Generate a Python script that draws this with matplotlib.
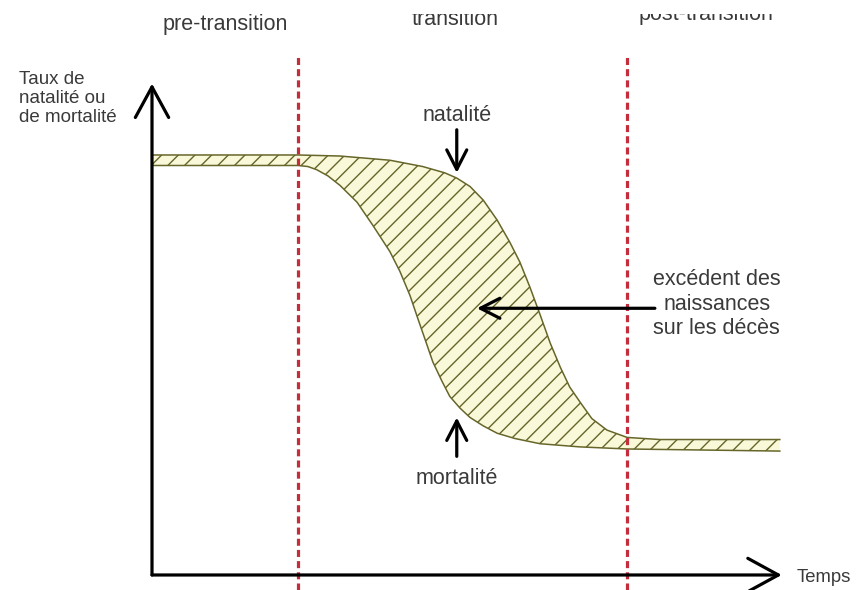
import matplotlib
matplotlib.use("Agg")
import matplotlib.pyplot as plt
from matplotlib.transforms import Bbox, TransformedBbox

# time (arbitrary units) and rates (per mille)
nat_time = [0, 23.1, 29.8, 37.7, 42.9, 46.4, 48.3, 50.4, 52.5, 54.7, 56.7,
            58.3, 59.9, 61.5, 63.1, 64.7, 66.2, 67.8, 69.7, 72.1, 75.3, 80.5, 99.5]
nat_rate = [40.0, 40.0, 39.9, 39.5, 38.9, 38.3, 37.8, 37.0, 35.7, 33.8, 31.7,
            29.8, 27.4, 24.8, 22.1, 19.8, 17.9, 16.5, 14.9, 13.8, 13.1, 12.9, 12.9]
mort_time = [0, 23.1, 24.7, 26.1, 27.9, 29.8, 32.5, 35.0, 37.7, 39.3, 40.9,
             42.2, 43.3, 44.5, 46.0, 47.2, 48.8, 50.4, 52.5, 54.7, 57.5, 61.5,
             67.8, 75.3, 99.5]
mort_rate = [39.0, 39.0, 38.9, 38.6, 38.0, 37.1, 35.5, 33.3, 30.8, 28.9, 26.6,
             24.3, 22.4, 20.3, 18.4, 17.0, 15.9, 15.0, 14.2, 13.5, 13.0, 12.5,
             12.2, 12.0, 11.8]
phase_bounds = [23.1, 75.3]
phase_labels = ["pre-transition", "transition", "post-transition"]

plt.rcParams["font.family"] = ["Liberation Sans", "DejaVu Sans"]
plt.rcParams["hatch.linewidth"] = 1.0

TXT = "#3a3a3a"
OLIVE = "#66662a"
RED = "#c42d3c"

fig = plt.figure(figsize=(8.65, 5.9), dpi=100)
ax = fig.add_axes([0, 0, 1, 1])
ax.set_xlim(-24.09, 113.0)
ax.set_ylim(-1.43, 54.76)
ax.axis("off")

# hatched band between the two curves
ax.fill(nat_time + mort_time[::-1], nat_rate + mort_rate[::-1],
        facecolor="#f9f9da", edgecolor=OLIVE, hatch="//", linewidth=0, zorder=2)
ax.plot(nat_time, nat_rate, color=OLIVE, lw=1.1, zorder=3)
ax.plot(mort_time, mort_rate, color=OLIVE, lw=1.1, zorder=3)

# phase boundaries
for b in phase_bounds:
    ax.plot([b, b], [-1.43, 49.5], color=RED, lw=2.3, dashes=(2.2, 1.3), zorder=4)

# axes with open arrowheads
big = dict(arrowstyle="->,head_length=2.2,head_width=1.2", color="black",
           lw=2.3, mutation_scale=10, shrinkA=0, shrinkB=0)
ax.annotate("", xy=(0, 46.8), xytext=(0, 0), arrowprops=big, zorder=5)
ax.annotate("", xy=(99.8, 0), xytext=(0, 0), arrowprops=big, zorder=5)

small = dict(arrowstyle="->,head_length=1.4,head_width=0.72", color="black",
             lw=2.3, mutation_scale=10, shrinkA=0, shrinkB=0)
ax.annotate("", xy=(48.3, 38.3), xytext=(48.3, 42.4), arrowprops=small, zorder=5)
ax.annotate("", xy=(48.3, 15.0), xytext=(48.3, 11.3), arrowprops=small, zorder=5)
ax.annotate("", xy=(51.5, 25.4), xytext=(79.7, 25.4), arrowprops=small, zorder=5)

fs = 15.5
ax.text(48.3, 43.8, "natalité", ha="center", va="center", fontsize=fs, color=TXT)
ax.text(48.3, 9.2, "mortalité", ha="center", va="center", fontsize=fs, color=TXT)
ax.text(89.5, 25.8, "excédent des\nnaissances\nsur les décès", ha="center",
        va="center", fontsize=fs, color=TXT, linespacing=1.2)
ax.text(-21.1, 48.0, "Taux de\nnatalité ou\nde mortalité", ha="left", va="top",
        fontsize=13.5, color=TXT, linespacing=1.15)
ax.text(102.2, -0.2, "Temps", ha="left", va="center", fontsize=13.3, color=TXT)

# phase labels, partly cut off at the top as in the original scan
label_x = [11.6, 48.0, 87.8]
label_y = [51.9, 52.4, 52.9]
label_cut = [60.0, 53.45, 53.4]
for lx, ly, lc, lab in zip(label_x, label_y, label_cut, phase_labels):
    t = ax.text(lx, ly, lab, ha="center", va="baseline", fontsize=fs, color=TXT,
                clip_on=True)
    t.set_clip_path(None)
    t.set_clip_box(TransformedBbox(Bbox([[lx - 20, -5], [lx + 20, lc]]), ax.transData))

fig.savefig("out.png", dpi=100)
